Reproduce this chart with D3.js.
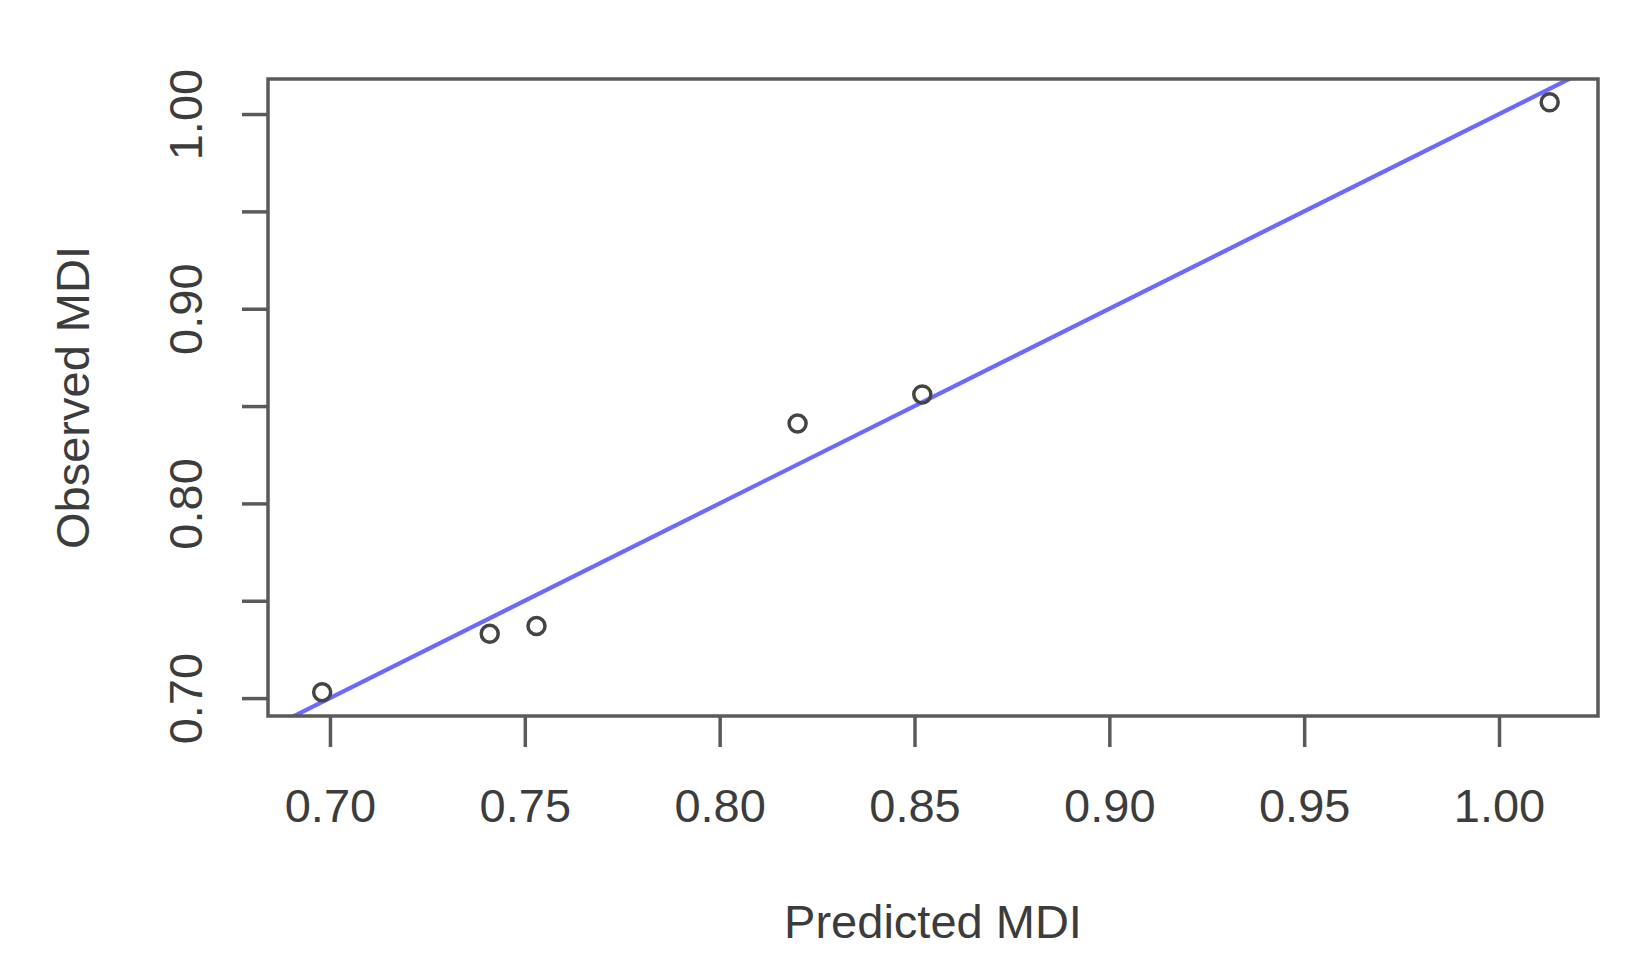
<!DOCTYPE html>
<html>
<head>
<meta charset="utf-8">
<script src="https://cdn.jsdelivr.net/npm/d3@7"></script>
<style>
  body { margin: 0; background: #fff; }
  svg text { font-family: "Liberation Sans", Arial, sans-serif; fill: #3c3c3c; }
</style>
</head>
<body>
<svg id="chart" width="1630" height="971"></svg>
<script>
// observed vs predicted MDI
var predicted = [0.698, 0.741, 0.753, 0.820, 0.852, 1.013];
var observed = [0.703, 0.733, 0.737, 0.841, 0.856, 1.006];
var xTicks = [0.70, 0.75, 0.80, 0.85, 0.90, 0.95, 1.00];
var yTicks = [0.70, 0.75, 0.80, 0.85, 0.90, 0.95, 1.00];
var yLabels = [0.70, 0.80, 0.90, 1.00];
// reference line y = x
var refLine = [0.68, 1.03];

var axisColor = "#5a5a5a";
var lineColor = "#6a6aff";
var pointColor = "#444444";

// plot box (note: "top" is taken by window.top)
var boxLeft = 268, boxRight = 1598, boxTop = 79, boxBottom = 716;

var svg = d3.select("#chart");

var x = d3.scaleLinear().domain([0.6841, 1.0254]).range([boxLeft, boxRight]);
var y = d3.scaleLinear().domain([0.6908, 1.018]).range([boxBottom, boxTop]);

svg.append("clipPath").attr("id", "plotArea")
  .append("rect")
  .attr("x", boxLeft).attr("y", boxTop)
  .attr("width", boxRight - boxLeft).attr("height", boxBottom - boxTop);

//  y = x line
svg.append("line")
  .attr("clip-path", "url(#plotArea)")
  .attr("x1", x(refLine[0])).attr("y1", y(refLine[0]))
  .attr("x2", x(refLine[1])).attr("y2", y(refLine[1]))
  .attr("stroke", lineColor)
  .attr("stroke-width", 4.2);

svg.append("g").selectAll("circle")
  .data(predicted)
  .enter().append("circle")
  .attr("cx", function(d){ return x(d); })
  .attr("cy", function(d, i){ return y(observed[i]); })
  .attr("r", 8.5)
  .attr("fill", "none")
  .attr("stroke", pointColor)
  .attr("stroke-width", 3.5);

var xAxis = svg.append("g")
  .attr("transform", "translate(0," + boxBottom + ")")
  .call(d3.axisBottom(x).tickValues(xTicks).tickSize(31).tickPadding(42)
    .tickFormat(d3.format(".2f")));

var yAxis = svg.append("g")
  .attr("transform", "translate(" + boxLeft + ",0)")
  .call(d3.axisLeft(y).tickValues(yTicks).tickSize(26)
    .tickFormat(function(d){
      return yLabels.some(function(v){ return Math.abs(v - d) < 1e-9; }) ? d3.format(".2f")(d) : "";
    }));

[xAxis, yAxis].forEach(function(a){
  a.select(".domain").remove();
  a.selectAll(".tick line").attr("stroke", axisColor).attr("stroke-width", 3.5);
  a.selectAll(".tick text").attr("font-size", 47).attr("fill", "#3c3c3c");
});

yAxis.selectAll(".tick text")
  .attr("x", null).attr("dy", null)
  .attr("text-anchor", "middle")
  .attr("transform", "translate(-66,0) rotate(-90)");

// box
svg.append("rect")
  .attr("x", boxLeft).attr("y", boxTop)
  .attr("width", boxRight - boxLeft).attr("height", boxBottom - boxTop)
  .attr("fill", "none")
  .attr("stroke", axisColor)
  .attr("stroke-width", 3.5);

svg.append("text")
  .attr("x", (boxLeft + boxRight) / 2).attr("y", 938)
  .attr("text-anchor", "middle")
  .attr("font-size", 47)
  .text("Predicted MDI");

svg.append("text")
  .attr("transform", "translate(89," + ((boxTop + boxBottom) / 2) + ") rotate(-90)")
  .attr("text-anchor", "middle")
  .attr("font-size", 47)
  .text("Observed MDI");
</script>
</body>
</html>
